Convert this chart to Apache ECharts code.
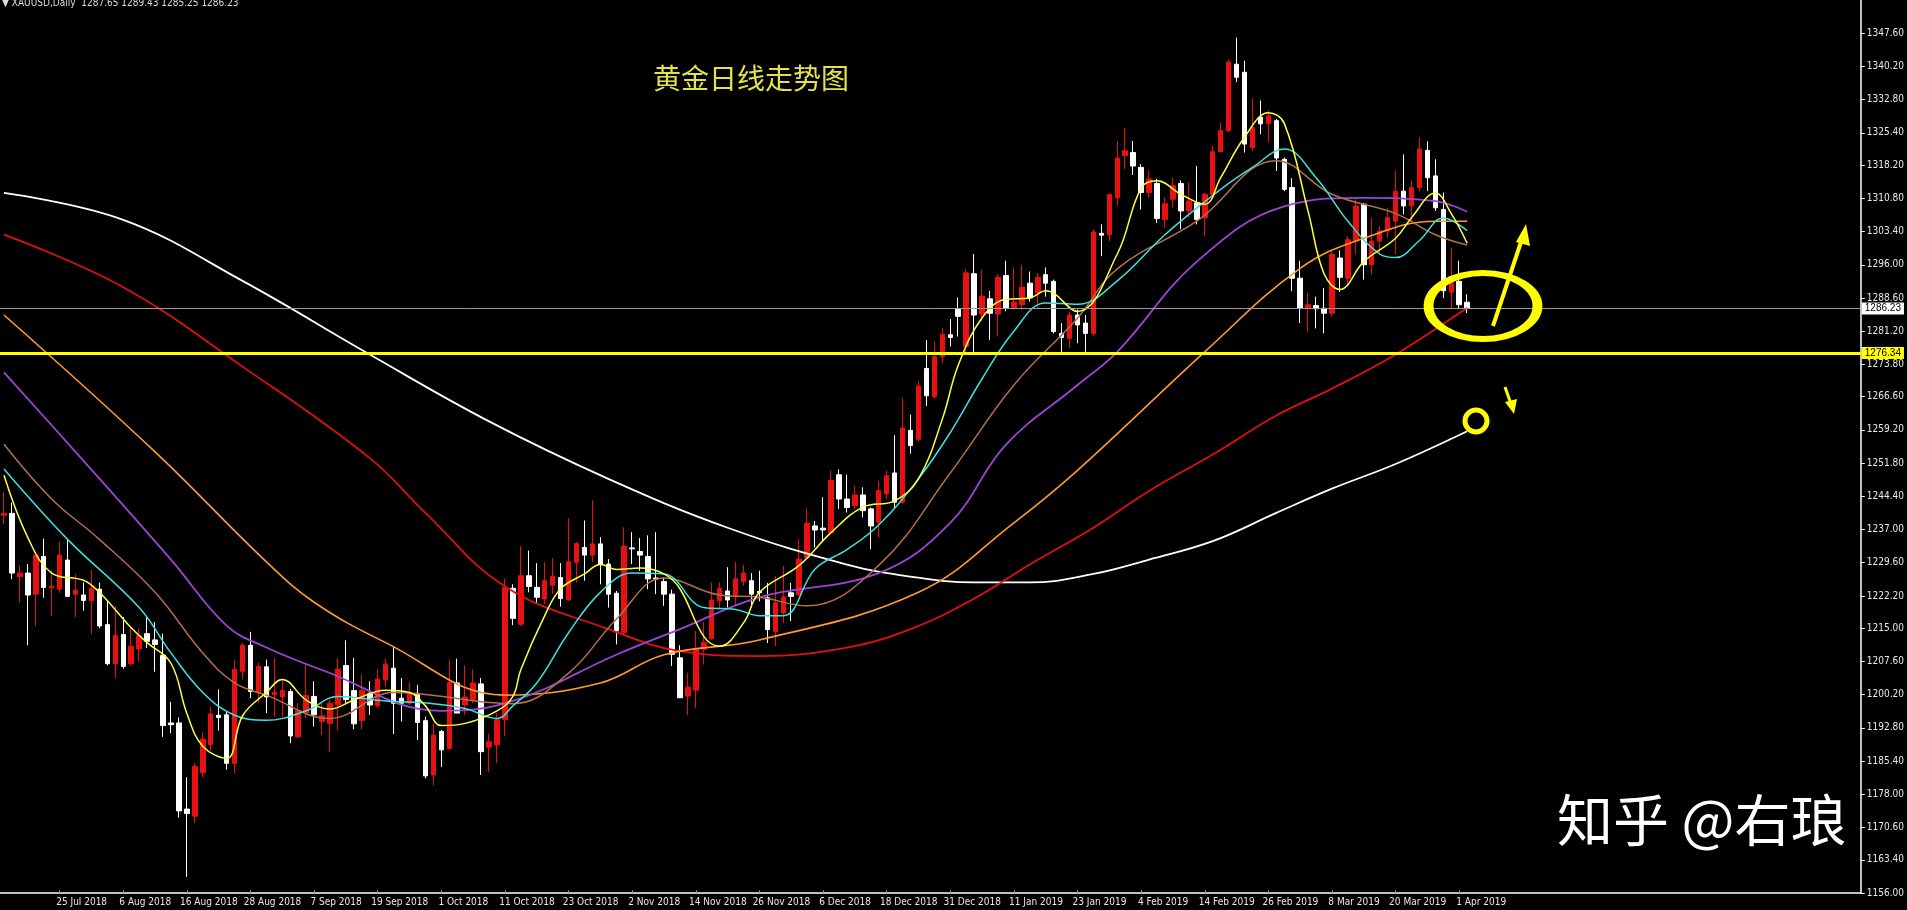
<!DOCTYPE html>
<html><head><meta charset="utf-8">
<script src="https://cdn.jsdelivr.net/npm/echarts@6/dist/echarts.min.js"></script>
<style>html,body{margin:0;padding:0;background:#000;}#c{width:1907px;height:910px;}</style>
</head><body><div id="c"></div>
<script>
const tickLabels = ['25 Jul 2018','6 Aug 2018','16 Aug 2018','28 Aug 2018','7 Sep 2018','19 Sep 2018','1 Oct 2018','11 Oct 2018','23 Oct 2018','2 Nov 2018','14 Nov 2018','26 Nov 2018','6 Dec 2018','18 Dec 2018','31 Dec 2018','11 Jan 2019','23 Jan 2019','4 Feb 2019','14 Feb 2019','26 Feb 2019','8 Mar 2019','20 Mar 2019','1 Apr 2019'];
const yTicks = [1156.00,1163.40,1170.60,1178.00,1185.40,1192.80,1200.20,1207.60,1215.00,1222.20,1229.60,1237.00,1244.40,1251.80,1259.20,1266.60,1273.80,1281.20,1288.60,1296.00,1303.40,1310.80,1318.20,1325.40,1332.80,1340.20,1347.60];
const opens = [1240.2,1240.6,1226.5,1227.3,1222.6,1231.0,1224.0,1223.7,1230.2,1222.6,1222.4,1221.1,1223.7,1215.8,1207.1,1213.6,1207.1,1210.4,1213.8,1212.4,1209.0,1193.9,1193.9,1174.7,1173.1,1182.8,1189.1,1195.6,1195.7,1184.9,1205.4,1211.2,1200.6,1206.4,1200.2,1199.7,1200.9,1190.8,1196.1,1199.8,1194.2,1193.8,1197.9,1206.7,1201.1,1194.4,1200.4,1197.7,1203.5,1206.1,1199.4,1198.3,1200.5,1194.4,1182.3,1192.0,1188.2,1202.8,1197.9,1199.1,1202.6,1188.5,1189.0,1194.6,1223.9,1215.9,1226.7,1224.1,1221.5,1224.6,1226.3,1221.3,1229.7,1233.0,1231.3,1233.8,1229.3,1222.8,1214.0,1232.9,1232.1,1231.0,1226.2,1225.4,1222.6,1208.4,1199.9,1201.2,1210.3,1212.7,1221.1,1223.3,1222.1,1225.4,1225.6,1223.2,1221.8,1214.3,1218.4,1222.9,1222.5,1230.7,1237.8,1237.3,1236.3,1249.2,1243.8,1242.3,1244.7,1241.6,1238.6,1244.9,1249.6,1243.1,1259.1,1257.1,1272.9,1266.6,1275.5,1280.4,1286.2,1277.8,1294.0,1285.0,1288.4,1285.0,1293.6,1286.5,1287.1,1291.9,1289.7,1293.8,1292.3,1280.7,1279.6,1284.8,1283.0,1280.7,1303.0,1302.7,1310.9,1320.3,1321.0,1317.7,1312.1,1314.1,1306.1,1310.6,1314.1,1308.0,1309.8,1306.5,1311.7,1321.2,1325.9,1340.7,1338.9,1322.1,1328.9,1327.4,1328.1,1319.5,1313.2,1293.0,1286.3,1286.9,1286.3,1285.2,1297.5,1293.0,1301.3,1309.5,1296.0,1301.3,1303.5,1305.7,1312.4,1309.1,1313.2,1321.5,1315.8,1308.3,1289.9,1292.3,1287.65];
const closes = [1240.6,1227.3,1227.3,1222.4,1231.3,1224.1,1224.4,1231.3,1222.1,1223.5,1221.2,1223.9,1215.5,1207.1,1213.4,1206.5,1211.0,1213.4,1212.1,1211.4,1193.3,1193.5,1174.3,1173.7,1184.2,1190.3,1195.9,1195.1,1184.9,1205.8,1211.2,1200.9,1206.5,1199.7,1200.7,1201.1,1191.0,1196.7,1200.0,1195.7,1195.5,1198.3,1205.9,1199.1,1193.7,1201.1,1197.9,1203.7,1207.0,1198.3,1198.3,1200.7,1194.0,1182.1,1191.2,1187.9,1202.9,1196.1,1199.7,1202.8,1187.5,1189.7,1194.6,1224.1,1217.2,1226.7,1224.3,1221.9,1225.6,1226.6,1221.6,1229.8,1233.9,1231.3,1233.8,1229.3,1222.6,1214.4,1233.3,1232.7,1231.3,1226.0,1226.0,1222.6,1209.2,1199.5,1201.9,1210.3,1211.8,1221.3,1223.9,1221.3,1226.0,1227.3,1222.6,1222.9,1214.7,1220.7,1222.0,1222.1,1230.4,1238.4,1236.9,1236.9,1247.9,1243.8,1241.9,1244.7,1241.2,1237.8,1245.7,1249.0,1243.1,1259.6,1255.7,1269.0,1266.8,1275.5,1280.5,1279.8,1284.5,1294.2,1284.8,1289.0,1285.2,1293.2,1286.3,1287.7,1291.0,1288.6,1293.2,1291.9,1281.1,1279.8,1284.8,1282.6,1280.7,1303.3,1302.6,1311.7,1319.8,1321.4,1318.0,1312.1,1315.1,1306.3,1309.6,1313.6,1308.0,1310.2,1306.1,1311.7,1321.2,1325.9,1341.2,1337.8,1322.9,1326.6,1327.4,1329.2,1319.8,1312.8,1293.0,1286.3,1287.1,1286.2,1285.2,1298.3,1293.2,1301.6,1309.1,1296.0,1301.3,1303.5,1306.5,1312.4,1309.1,1313.2,1321.8,1315.4,1308.7,1290.2,1291.9,1287.1,1286.23];
const lows = [1238.2,1225.9,1220.7,1211.2,1215.5,1221.8,1217.7,1222.9,1222.0,1217.5,1218.9,1213.7,1215.0,1206.7,1203.9,1206.0,1206.6,1207.6,1210.6,1205.3,1190.8,1191.6,1172.8,1159.6,1171.6,1181.8,1187.7,1192.2,1183.5,1182.8,1203.6,1199.4,1198.3,1196.1,1195.3,1195.2,1189.4,1190.5,1195.0,1193.1,1191.2,1187.5,1192.3,1198.3,1192.5,1192.5,1195.7,1197.2,1202.0,1191.4,1194.2,1197.9,1190.1,1181.5,1180.0,1184.1,1187.9,1196.1,1195.7,1198.3,1182.3,1183.0,1185.0,1190.9,1215.7,1215.5,1223.0,1220.4,1220.4,1222.6,1219.8,1221.1,1225.2,1225.6,1229.7,1224.8,1219.6,1211.4,1213.6,1229.3,1227.8,1223.7,1222.6,1220.0,1206.6,1199.5,1195.7,1197.2,1206.9,1212.4,1219.2,1219.6,1220.0,1224.5,1219.6,1221.0,1211.7,1211.0,1216.2,1216.6,1222.1,1230.4,1233.0,1234.5,1236.0,1241.6,1240.8,1241.6,1239.7,1232.6,1235.2,1243.8,1241.6,1242.7,1253.9,1256.6,1264.5,1266.2,1274.0,1277.8,1280.0,1276.6,1276.6,1283.5,1279.2,1280.0,1285.6,1286.0,1286.0,1287.8,1286.3,1288.9,1280.7,1276.6,1277.4,1278.5,1276.6,1280.0,1297.9,1301.3,1309.1,1317.3,1316.0,1308.3,1311.0,1305.3,1304.2,1308.7,1303.9,1306.5,1305.0,1302.4,1311.3,1321.0,1325.5,1336.7,1321.0,1321.4,1325.1,1323.3,1316.9,1312.4,1290.1,1283.0,1281.1,1281.8,1280.7,1284.5,1289.9,1291.5,1298.3,1292.7,1293.8,1298.3,1302.0,1298.3,1307.2,1305.7,1312.4,1312.4,1308.0,1288.6,1286.3,1286.3,1285.25];
const highs = [1245.3,1243.0,1228.9,1229.3,1232.1,1235.0,1227.8,1234.3,1234.7,1227.0,1225.2,1228.0,1225.2,1221.0,1220.0,1217.5,1215.2,1215.0,1217.4,1216.4,1213.8,1198.6,1195.1,1181.8,1185.0,1191.8,1197.5,1201.4,1196.4,1208.0,1211.7,1214.2,1207.4,1208.0,1208.4,1203.4,1201.5,1198.3,1206.9,1203.2,1198.3,1199.1,1208.4,1212.3,1208.4,1204.7,1203.2,1205.9,1208.2,1210.9,1203.9,1202.9,1202.4,1195.3,1193.8,1192.3,1208.0,1208.2,1206.7,1205.8,1203.9,1191.6,1196.1,1226.0,1224.8,1233.3,1232.3,1229.5,1229.7,1230.6,1229.5,1239.5,1234.2,1239.0,1243.5,1235.3,1230.4,1223.3,1237.5,1236.4,1235.1,1235.7,1236.4,1226.3,1223.6,1211.2,1205.1,1214.4,1216.4,1225.2,1225.2,1228.6,1229.8,1229.1,1227.3,1227.8,1225.1,1226.6,1228.9,1225.1,1234.8,1241.7,1238.9,1244.2,1250.1,1250.4,1249.2,1246.8,1246.4,1241.9,1247.9,1250.1,1258.0,1266.3,1262.6,1270.1,1279.2,1278.9,1281.9,1283.9,1288.7,1295.1,1298.4,1294.9,1290.2,1293.9,1296.9,1295.4,1296.0,1294.5,1294.2,1295.4,1292.7,1283.0,1285.6,1286.0,1284.8,1303.9,1305.0,1311.9,1323.6,1326.5,1323.6,1318.4,1316.9,1315.1,1311.0,1315.4,1314.8,1314.3,1318.0,1312.1,1322.5,1327.7,1341.7,1346.6,1341.5,1333.0,1332.6,1330.4,1328.5,1319.9,1315.3,1296.9,1289.7,1288.9,1290.8,1299.0,1299.2,1302.4,1310.6,1309.8,1306.5,1304.6,1308.7,1316.9,1320.6,1314.7,1324.4,1323.5,1319.5,1312.1,1299.8,1296.9,1289.43];
const maYellow = [[0,1249.1],[3,1235.2],[6,1227.3],[10,1225.7],[12,1223.0],[16,1215.1],[18,1211.8],[21,1207.2],[23,1196.0],[25,1188.7],[28,1186.0],[30,1195.5],[33,1200.7],[35,1203.6],[38,1199.0],[41,1197.0],[44,1199.0],[48,1201.2],[51,1200.7],[53,1197.7],[55,1193.3],[58,1193.8],[62,1196.6],[64,1199.8],[65,1205.8],[68,1217.8],[70,1223.8],[73,1227.1],[75,1229.2],[77,1228.1],[80,1228.4],[83,1227.1],[85,1223.8],[88,1213.2],[90,1211.0],[93,1216.2],[95,1223.0],[100,1229.0],[104,1236.3],[108,1242.0],[112,1243.4],[115,1248.3],[118,1261.6],[120,1273.6],[123,1284.2],[126,1288.3],[129,1288.6],[131,1290.2],[135,1285.6],[140,1298.4],[143,1313.1],[145,1314.7],[148,1311.7],[151,1309.5],[153,1315.4],[156,1324.4],[159,1329.9],[161,1327.5],[164,1307.9],[166,1294.0],[168,1290.5],[171,1296.7],[175,1301.9],[177,1306.5],[180,1312.0],[182,1307.4],[184,1300.8]];
const maCyan = [[0,1250.5],[8,1234.8],[17,1219.6],[21,1209.5],[25,1200.7],[29,1195.6],[33,1194.5],[38,1196.6],[42,1199.8],[48,1198.8],[54,1198.2],[58,1197.1],[62,1194.9],[64,1197.7],[67,1202.8],[71,1214.0],[75,1223.0],[79,1227.3],[83,1227.1],[88,1219.6],[92,1219.2],[95,1217.8],[98,1217.8],[102,1228.2],[106,1232.5],[110,1238.0],[115,1248.3],[119,1258.6],[123,1270.6],[127,1281.2],[131,1287.5],[135,1287.2],[140,1292.4],[146,1302.7],[153,1312.8],[157,1317.7],[161,1321.8],[165,1315.4],[169,1305.7],[173,1298.4],[175,1297.6],[178,1301.4],[181,1306.4],[184,1303.6]];
const maBrown = [[0,1256.0],[6,1243.8],[12,1234.8],[19,1223.0],[25,1209.5],[29,1202.8],[33,1200.1],[41,1194.9],[49,1200.7],[64,1198.2],[71,1205.0],[77,1217.0],[83,1226.2],[90,1222.4],[95,1221.9],[101,1220.0],[110,1229.0],[119,1249.6],[127,1269.2],[135,1284.1],[140,1295.1],[150,1305.7],[160,1319.2],[167,1311.7],[175,1307.4],[180,1302.7],[184,1300.4]];
const maPurple = [[0,1272.0],[9,1254.3],[21,1230.3],[28,1215.6],[33,1210.7],[40,1205.7],[55,1196.6],[64,1198.8],[77,1209.1],[85,1214.8],[95,1221.9],[110,1227.3],[119,1238.5],[126,1255.9],[135,1269.2],[140,1276.6],[150,1296.7],[161,1309.0],[171,1310.9],[180,1310.2],[184,1307.8]];
const maOrange = [[0,1284.8],[19,1254.3],[33,1229.8],[39,1220.8],[48,1211.8],[63,1200.1],[75,1202.8],[83,1209.1],[95,1212.4],[115,1223.0],[127,1238.5],[135,1250.2],[151,1276.6],[163,1295.2],[171,1301.9],[180,1305.7],[184,1305.7]];
const maRed = [[0,1302.7],[15,1291.0],[30,1273.3],[46,1252.9],[53,1240.7],[63,1224.3],[76,1214.8],[85,1209.9],[95,1208.8],[106,1210.7],[114,1214.8],[122,1221.6],[129,1229.2],[137,1237.4],[144,1245.6],[152,1253.7],[160,1262.4],[167,1268.4],[175,1276.0],[184,1286.4]];
const maWhite = [[0,1312.0],[15,1306.0],[30,1292.4],[46,1276.0],[61,1261.1],[76,1248.3],[91,1237.4],[106,1229.2],[114,1226.5],[122,1225.2],[129,1225.2],[137,1227.1],[144,1230.3],[152,1234.4],[160,1240.7],[167,1246.1],[175,1251.6],[184,1258.9]];
const supportLevel = 1276.34, lastPrice = 1286.23;
const slots = 234;

const categories = [];
for (let i = 0; i < slots; i++) categories.push(String(i));
const labelAt = {};
tickLabels.forEach((t, k) => { labelAt[7 + 8 * k] = t; });
const kdata = opens.map((o, i) => [o, closes[i], lows[i], highs[i]]);

const chart = echarts.init(document.getElementById('c'));
const maLine = (data, color, w) => ({type:'line', data, smooth:0.4, showSymbol:false, symbol:'none', silent:true,
  lineStyle:{color, width:w||1.6}, z:3});
const Y = '#ffff00';
const FONT = 'DejaVu Sans Condensed, Liberation Sans Narrow, Liberation Sans';
chart.setOption({
  backgroundColor:'#000',
  animation:false,
  grid:{left:0, right:45, top:0, bottom:17},
  xAxis:{type:'category', data:categories, boundaryGap:true,
    axisLine:{lineStyle:{color:'#fff', width:1.5}},
    axisTick:{show:true, inside:true, length:3, lineStyle:{color:'#888'}, interval:(i)=>labelAt[i]!==undefined, alignWithLabel:true},
    axisLabel:{interval:(i)=>labelAt[i]!==undefined, formatter:(v,i)=>labelAt[i]?'{a|'+labelAt[i]+'}':'',
      rich:{a:{color:'#e8e8e8', fontSize:10, fontFamily:FONT, padding:[0,0,0,44]}}, margin:4, hideOverlap:false},
    splitLine:{show:false}},
  yAxis:{type:'value', position:'right', min:1156, max:1355, scale:true,
    axisLine:{show:true, lineStyle:{color:'#fff', width:1.5}},
    axisTick:{show:true, length:4, lineStyle:{color:'#fff'}, customValues:yTicks},
    axisLabel:{customValues:yTicks, formatter:(v)=>v.toFixed(2), color:'#e8e8e8', fontSize:10, fontFamily:FONT, margin:6},
    splitLine:{show:false}},
  series:[
    maLine(maWhite,'#ffffff',1.8),
    maLine(maRed,'#e01010',1.8),
    maLine(maOrange,'#ff9a2e',1.6),
    maLine(maPurple,'#9b45d6',1.8),
    maLine(maBrown,'#b0704a',1.5),
    maLine(maCyan,'#3fe0e0',1.5),
    maLine(maYellow,'#ffff40',1.5),
    {type:'candlestick', data:kdata, barWidth:5, z:2,
      itemStyle:{color:'#e81010', color0:'#ffffff', borderColor:'#e81010', borderColor0:'#ffffff', borderWidth:1},
      markLine:{symbol:'none', silent:true, animation:false, data:[
        {yAxis:supportLevel, lineStyle:{color:Y, width:3, type:'solid'},
          label:{position:'end', formatter:supportLevel.toFixed(2), backgroundColor:Y, color:'#000', fontSize:10, padding:[1,3], distance:1}},
        {yAxis:lastPrice, lineStyle:{color:'#9a9a9a', width:1, type:'solid'},
          label:{position:'end', formatter:lastPrice.toFixed(2), backgroundColor:'#fff', color:'#000', fontSize:10, padding:[1,3], distance:1}}
      ]}}
  ],
  graphic:[
    {type:'text', left:2, top:-2, style:{text:'▼ XAUUSD,Daily  1287.65 1289.43 1285.25 1286.23', fill:'#ddd', font:'10px DejaVu Sans Condensed'}},
    {type:'text', left:653, top:64, style:{text:'黄金日线走势图', fill:'#e2e24a', font:'28px "Noto Sans CJK SC"'}},
    {type:'text', left:1557, top:792, style:{text:'知乎 @右琅', fill:'#ffffff', font:'56px "Noto Sans CJK SC"'}},
    {type:'circle', shape:{cx:0, cy:0, r:33}, x:1483, y:306, scaleX:1.65, scaleY:1, style:{fill:'none', stroke:Y, lineWidth:6, strokeNoScale:true}, z:10},
    {type:'line', shape:{x1:1493, y1:326, x2:1523, y2:236}, style:{stroke:Y, lineWidth:4}, z:10},
    {type:'polygon', shape:{points:[[1526,224],[1516,242],[1530,246]]}, style:{fill:Y}, z:10},
    {type:'circle', shape:{cx:1476, cy:421, r:11}, style:{fill:'none', stroke:Y, lineWidth:5}, z:10},
    {type:'line', shape:{x1:1505, y1:387, x2:1511, y2:404}, style:{stroke:Y, lineWidth:3}, z:10},
    {type:'polygon', shape:{points:[[1514,414],[1505,402],[1517,399]]}, style:{fill:Y}, z:10}
  ]
});
</script></body></html>
